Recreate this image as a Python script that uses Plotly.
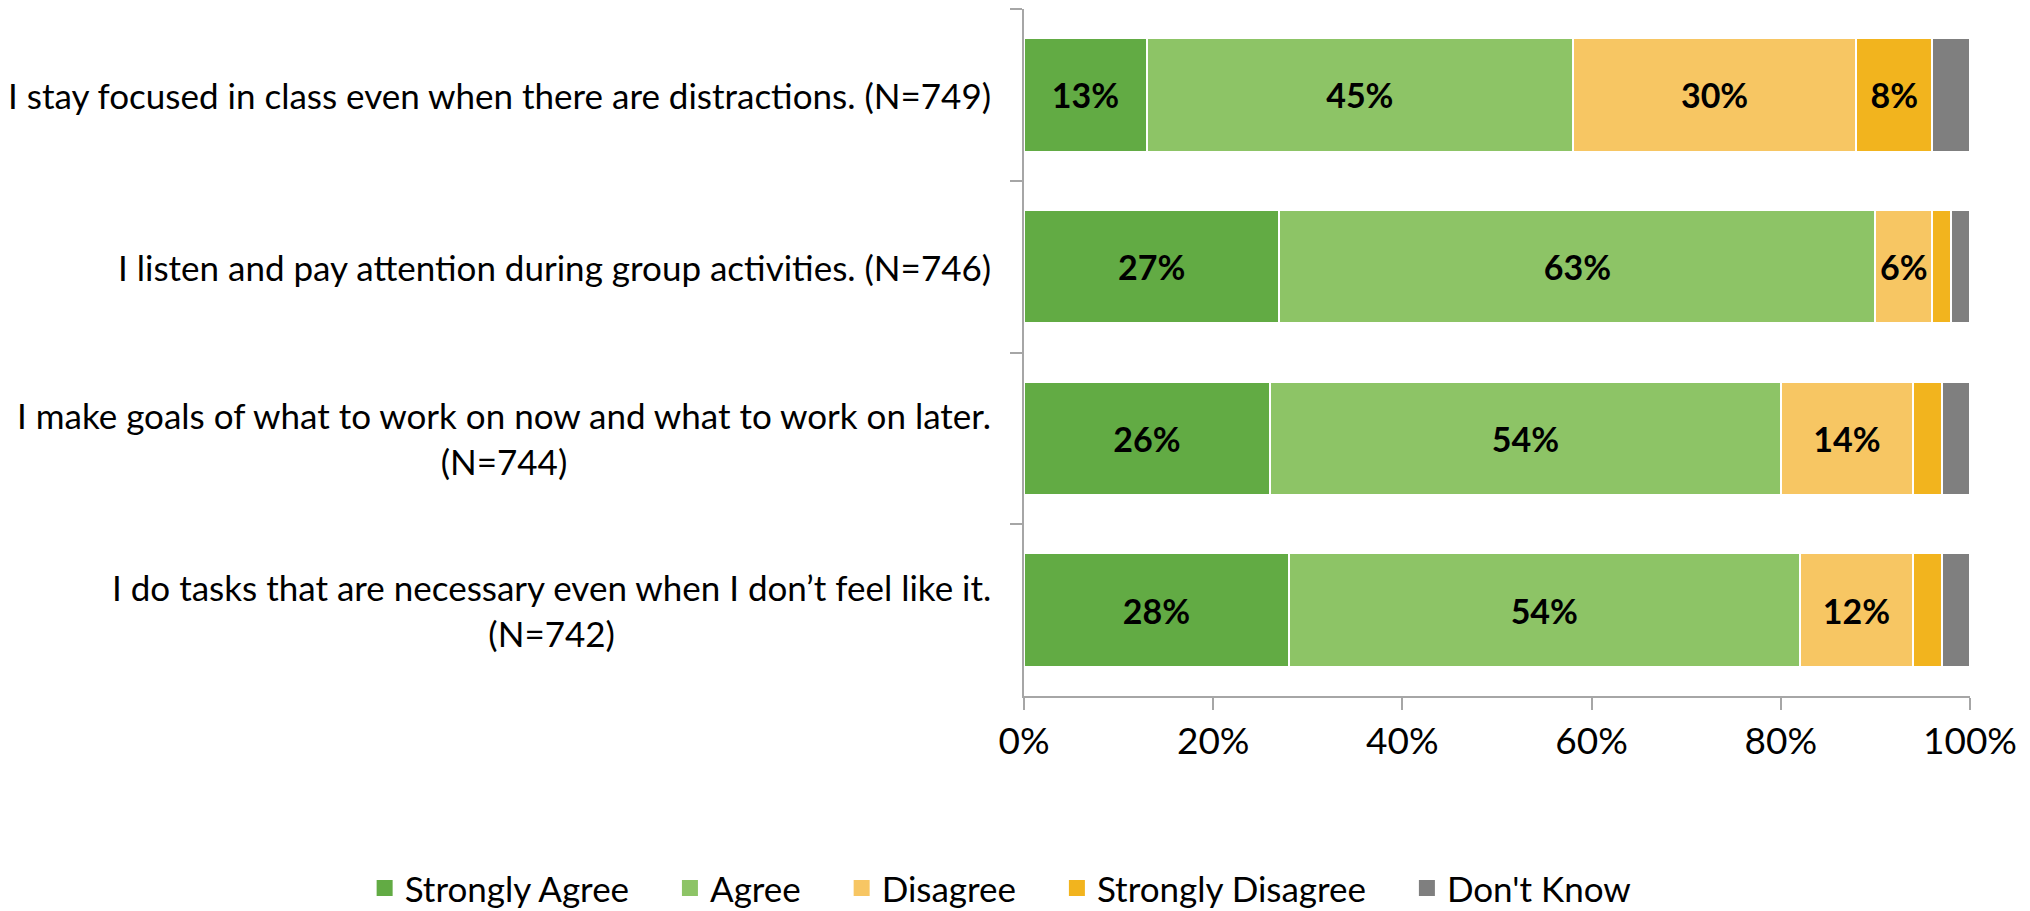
import plotly.graph_objects as go

categories = [
    "I stay focused in class even when there are distractions. (N=749)",
    "I listen and pay attention during group activities. (N=746)",
    "I make goals of what to work on now and what to work on later.<br>(N=744)",
    "I do tasks that are necessary even when I don\u2019t feel like it.<br>(N=742)",
]
series_names = ["Strongly Agree", "Agree", "Disagree", "Strongly Disagree", "Don't Know"]
strongly_agree = [13, 27, 26, 28]
agree = [45, 63, 54, 54]
disagree = [30, 6, 14, 12]
strongly_disagree = [8, 2, 3, 3]
dont_know = [4, 2, 3, 3]
x_tick_vals = [0, 20, 40, 60, 80, 100]
x_tick_text = ["0%", "20%", "40%", "60%", "80%", "100%"]

colors = ["#62AB44", "#8DC466", "#F7C663", "#F2B41E", "#7F7F7F"]
all_series = [strongly_agree, agree, disagree, strongly_disagree, dont_know]
FONT = "Lato"
PAD = "\u00a0" * 4

fig = go.Figure()
for name, vals, col in zip(series_names, all_series, colors):
    labels = [f"{v}%" if v >= 5 else "" for v in vals]
    fig.add_trace(go.Bar(
        name=name, y=categories, x=vals, orientation="h",
        marker=dict(color=col, line=dict(color="white", width=2)),
        text=labels, textposition="inside", insidetextanchor="middle",
        textangle=0, constraintext="none",
        textfont=dict(family=FONT, size=34, color="black", weight="bold"),
        hoverinfo="skip", showlegend=False, legendgroup=name,
    ))

# legend entries (square swatches)
for name, col in zip(series_names, colors):
    fig.add_trace(go.Scatter(
        name=name + PAD, x=[None], y=[None], mode="markers",
        marker=dict(symbol="square", size=16, color=col),
        showlegend=True, legendgroup=name, hoverinfo="skip",
    ))

for cat in categories:
    fig.add_annotation(
        x=0, xref="paper", y=cat, yref="y", xanchor="right", yanchor="middle",
        xshift=-31, text=cat, showarrow=False, align="center",
        font=dict(family=FONT, size=35, color="black"),
    )

fig.update_layout(
    barmode="stack", bargap=0.34,
    width=2030, height=911,
    margin=dict(l=1016, r=68, t=1, b=214),
    paper_bgcolor="white", plot_bgcolor="white",
    showlegend=True,
    legend=dict(orientation="h", xref="paper", x=-0.697, xanchor="left",
                yref="paper", y=-0.28, yanchor="middle",
                font=dict(family=FONT, size=35, color="black"),
                itemwidth=30, traceorder="normal"),
    font=dict(family=FONT, size=35, color="black"),
)
fig.update_xaxes(range=[0, 100], tickvals=x_tick_vals, ticktext=x_tick_text,
                 showgrid=False, zeroline=False, showline=True, linecolor="#A6A6A6",
                 linewidth=2, ticks="outside", ticklen=12, tickcolor="#A6A6A6",
                 tickwidth=2, tickfont=dict(family=FONT, size=37, color="black"),
                 fixedrange=True)
fig.update_yaxes(autorange="reversed", showticklabels=False, showgrid=False,
                 showline=True, linecolor="#A6A6A6", linewidth=2,
                 ticks="outside", tickson="boundaries", ticklen=12,
                 tickcolor="#A6A6A6", tickwidth=2)

fig.write_html("out.html")
